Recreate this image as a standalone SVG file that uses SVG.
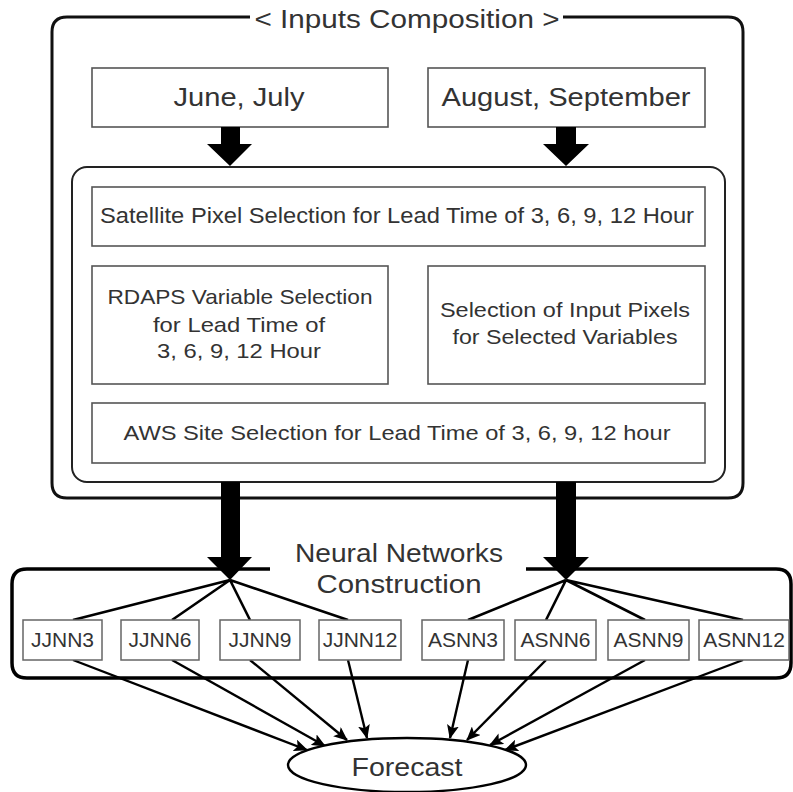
<svg xmlns="http://www.w3.org/2000/svg" width="793" height="792" viewBox="0 0 793 792">
  <defs>
    <style>
      text { font-family: "Liberation Sans", Arial, sans-serif; fill: #333; text-anchor: middle; }
      .box { fill: #fff; stroke: #555; stroke-width: 1.6; }
      .nn { fill: #fff; stroke: #666; stroke-width: 1.5; }
      .frame { fill: none; stroke: #111; stroke-width: 3; }
      .inner { fill: none; stroke: #222; stroke-width: 2; }
      .link { fill: none; stroke: #000; stroke-width: 2.6; }
      .flow { fill: none; stroke: #000; stroke-width: 2.4; marker-end: url(#tip); }
      .big { fill: #000; }
      .t26 { font-size: 26px; }
      .t22 { font-size: 22px; }
      .t21 { font-size: 21px; }
    </style>
    <marker id="tip" markerUnits="userSpaceOnUse" markerWidth="14" markerHeight="12" viewBox="0 0 14 12" refX="13" refY="6" orient="auto">
      <path d="M0,0 L14,6 L0,12 L3,6 Z" fill="#000"/>
    </marker>
  </defs>

  <rect width="793" height="792" fill="#fff"/>

  <!-- Inputs composition frame with title gap -->
  <g id="inputs-frame">
    <path class="frame" d="M250,17 H67 Q52,17 52,32 V483 Q52,498 67,498 H728 Q743,498 743,483 V32 Q743,17 728,17 H563"/>
    <text class="t26" x="407" y="28" textLength="305" lengthAdjust="spacingAndGlyphs">&lt; Inputs Composition &gt;</text>
  </g>

  <g id="june-july">
    <rect class="box" x="92" y="68" width="296" height="59"/>
    <text class="t26" x="239" y="106" textLength="131" lengthAdjust="spacingAndGlyphs">June, July</text>
  </g>
  <g id="aug-sep">
    <rect class="box" x="428" y="68" width="277" height="59"/>
    <text class="t26" x="566" y="106" textLength="249" lengthAdjust="spacingAndGlyphs">August, September</text>
  </g>

  <g id="selection-frame">
    <rect class="inner" x="72" y="167" width="653" height="315" rx="15"/>
  </g>

  <g id="satellite">
    <rect class="box" x="92" y="187" width="613" height="59"/>
    <text class="t22" x="397" y="223" textLength="594" lengthAdjust="spacingAndGlyphs">Satellite Pixel Selection for Lead Time of 3, 6, 9, 12 Hour</text>
  </g>
  <g id="rdaps">
    <rect class="box" x="92" y="266" width="296" height="118"/>
    <text class="t21" x="240" y="304" textLength="265" lengthAdjust="spacingAndGlyphs">RDAPS Variable Selection</text>
    <text class="t21" x="239" y="332" textLength="172" lengthAdjust="spacingAndGlyphs">for Lead Time of</text>
    <text class="t21" x="239" y="358" textLength="164" lengthAdjust="spacingAndGlyphs">3, 6, 9, 12 Hour</text>
  </g>
  <g id="input-pixels">
    <rect class="box" x="428" y="266" width="277" height="118"/>
    <text class="t21" x="565" y="317" textLength="250" lengthAdjust="spacingAndGlyphs">Selection of Input Pixels</text>
    <text class="t21" x="565" y="344" textLength="225" lengthAdjust="spacingAndGlyphs">for Selected Variables</text>
  </g>
  <g id="aws">
    <rect class="box" x="92" y="403" width="613" height="60"/>
    <text class="t21" x="397" y="440" textLength="547" lengthAdjust="spacingAndGlyphs">AWS Site Selection for Lead Time of 3, 6, 9, 12 hour</text>
  </g>

  <!-- Neural networks construction frame -->
  <g id="nn-frame">
    <path d="M270,569 H27 Q12,569 12,584 V663 Q12,678 27,678 H776 Q791,678 791,663 V584 Q791,569 776,569 H526" fill="none" stroke="#000" stroke-width="3.5"/>
    <text class="t26" x="399" y="562" textLength="208" lengthAdjust="spacingAndGlyphs">Neural Networks</text>
    <text class="t26" x="399" y="593" textLength="165" lengthAdjust="spacingAndGlyphs">Construction</text>
  </g>

  <g id="connectors">
    <!-- block arrows -->
    <path class="big" d="M221,127 H240 V144 H252 L230,166 L207,144 H221 Z"/>
    <path class="big" d="M556,127 H576 V144 H589 L566,166 L543,144 H556 Z"/>
    <path class="big" d="M221,482 H240 V557 H252 L230,580 L207,557 H221 Z"/>
    <path class="big" d="M556,482 H576 V557 H589 L566,580 L543,557 H556 Z"/>

    <!-- fan-out to networks -->
    <path class="link" d="M230,580 L73,620 M230,580 L172,620 M230,580 L250,620 M230,580 L348,620"/>
    <path class="link" d="M566,580 L468,620 M566,580 L546,620 M566,580 L645,620 M566,580 L743,620"/>

    <!-- networks to forecast -->
    <path class="flow" d="M73,660 L307,750"/>
    <path class="flow" d="M172,660 L325,746"/>
    <path class="flow" d="M250,660 L347,740"/>
    <path class="flow" d="M348,660 L367,738"/>
    <path class="flow" d="M468,660 L450,738"/>
    <path class="flow" d="M546,660 L467,740"/>
    <path class="flow" d="M645,660 L490,745"/>
    <path class="flow" d="M743,660 L505,750"/>
  </g>

  <g id="jjnn3"><rect class="nn" x="23" y="620" width="79" height="40"/><text class="t21" x="62.5" y="647">JJNN3</text></g>
  <g id="jjnn6"><rect class="nn" x="121" y="620" width="78" height="40"/><text class="t21" x="160" y="647">JJNN6</text></g>
  <g id="jjnn9"><rect class="nn" x="220" y="620" width="80" height="40"/><text class="t21" x="260" y="647">JJNN9</text></g>
  <g id="jjnn12"><rect class="nn" x="319" y="620" width="82" height="40"/><text class="t21" x="360" y="647">JJNN12</text></g>
  <g id="asnn3"><rect class="nn" x="422" y="620" width="82" height="40"/><text class="t21" x="463" y="647">ASNN3</text></g>
  <g id="asnn6"><rect class="nn" x="515" y="620" width="81" height="40"/><text class="t21" x="555.5" y="647">ASNN6</text></g>
  <g id="asnn9"><rect class="nn" x="608" y="620" width="81" height="40"/><text class="t21" x="648.5" y="647">ASNN9</text></g>
  <g id="asnn12"><rect class="nn" x="699" y="620" width="90" height="40"/><text class="t21" x="744" y="647">ASNN12</text></g>

  <g id="forecast">
    <ellipse cx="407" cy="765" rx="119" ry="27" fill="#fff" stroke="#000" stroke-width="2.4"/>
    <text class="t26" x="407" y="776" textLength="111" lengthAdjust="spacingAndGlyphs">Forecast</text>
  </g>
</svg>
